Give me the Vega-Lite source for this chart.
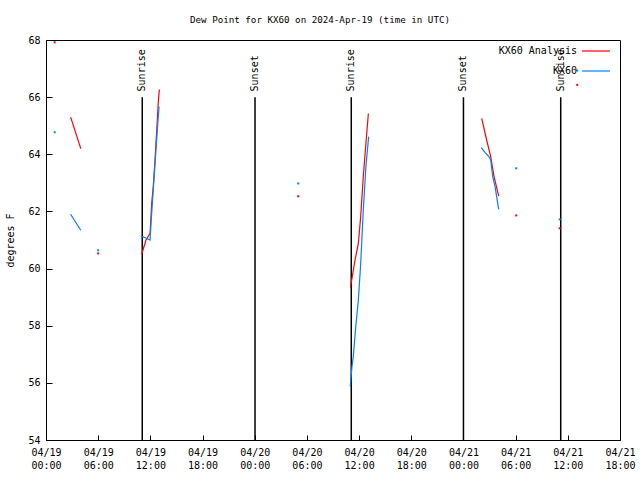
{
  "$schema": "https://vega.github.io/schema/vega-lite/v6.json",
  "autosize": {"type": "none"},
  "width": 574,
  "height": 400,
  "padding": {"left": 46, "top": 40, "right": 20, "bottom": 40},
  "background": "white",
  "config": {
    "font": "DejaVu Sans Mono",
    "view": {"stroke": "black", "strokeWidth": 1},
    "axis": {"labelFont": "DejaVu Sans Mono", "labelFontSize": 10, "labelColor": "black", "titleFont": "DejaVu Sans Mono", "titleFontSize": 10, "titleFontWeight": "normal", "titleColor": "black", "domainColor": "black", "tickColor": "black", "grid": false}
  },
  "title": {"text": "Dew Point for KX60 on 2024-Apr-19 (time in UTC)", "anchor": "middle", "dx": -13, "offset": 10, "fontSize": 9.2, "fontWeight": "normal", "font": "DejaVu Sans Mono", "color": "black"},
  "datasets": {
    "events": [
      {"t": "2024-04-19T11:04:00Z", "label": "Sunrise"},
      {"t": "2024-04-20T00:02:00Z", "label": "Sunset"},
      {"t": "2024-04-20T11:06:00Z", "label": "Sunrise"},
      {"t": "2024-04-21T00:00:00Z", "label": "Sunset"},
      {"t": "2024-04-21T11:11:00Z", "label": "Sunrise"}
    ],
    "lines": [
      {"series": "KX60 Analysis", "seg": "a1", "t": "2024-04-19T02:50:00Z", "v": 65.3},
      {"series": "KX60 Analysis", "seg": "a1", "t": "2024-04-19T04:00:00Z", "v": 64.2},
      {"series": "KX60 Analysis", "seg": "a2", "t": "2024-04-19T11:00:00Z", "v": 60.5},
      {"series": "KX60 Analysis", "seg": "a2", "t": "2024-04-19T11:30:00Z", "v": 61.0},
      {"series": "KX60 Analysis", "seg": "a2", "t": "2024-04-19T11:58:00Z", "v": 61.23},
      {"series": "KX60 Analysis", "seg": "a2", "t": "2024-04-19T12:09:00Z", "v": 62.28},
      {"series": "KX60 Analysis", "seg": "a2", "t": "2024-04-19T12:20:00Z", "v": 62.87},
      {"series": "KX60 Analysis", "seg": "a2", "t": "2024-04-19T12:32:00Z", "v": 63.8},
      {"series": "KX60 Analysis", "seg": "a2", "t": "2024-04-19T12:44:00Z", "v": 64.85},
      {"series": "KX60 Analysis", "seg": "a2", "t": "2024-04-19T12:55:00Z", "v": 65.84},
      {"series": "KX60 Analysis", "seg": "a2", "t": "2024-04-19T13:02:00Z", "v": 66.27},
      {"series": "KX60 Analysis", "seg": "a3", "t": "2024-04-20T11:00:00Z", "v": 59.34},
      {"series": "KX60 Analysis", "seg": "a3", "t": "2024-04-20T11:13:00Z", "v": 59.72},
      {"series": "KX60 Analysis", "seg": "a3", "t": "2024-04-20T11:32:00Z", "v": 60.3},
      {"series": "KX60 Analysis", "seg": "a3", "t": "2024-04-20T11:55:00Z", "v": 60.88},
      {"series": "KX60 Analysis", "seg": "a3", "t": "2024-04-20T12:11:00Z", "v": 61.82},
      {"series": "KX60 Analysis", "seg": "a3", "t": "2024-04-20T12:29:00Z", "v": 63.22},
      {"series": "KX60 Analysis", "seg": "a3", "t": "2024-04-20T12:47:00Z", "v": 64.38},
      {"series": "KX60 Analysis", "seg": "a3", "t": "2024-04-20T13:04:00Z", "v": 65.43},
      {"series": "KX60 Analysis", "seg": "a4", "t": "2024-04-21T02:06:00Z", "v": 65.26},
      {"series": "KX60 Analysis", "seg": "a4", "t": "2024-04-21T02:40:00Z", "v": 64.5},
      {"series": "KX60 Analysis", "seg": "a4", "t": "2024-04-21T03:08:00Z", "v": 63.92},
      {"series": "KX60 Analysis", "seg": "a4", "t": "2024-04-21T03:31:00Z", "v": 63.22},
      {"series": "KX60 Analysis", "seg": "a4", "t": "2024-04-21T04:03:00Z", "v": 62.54},
      {"series": "KX60", "seg": "b1", "t": "2024-04-19T02:50:00Z", "v": 61.9},
      {"series": "KX60", "seg": "b1", "t": "2024-04-19T04:00:00Z", "v": 61.34},
      {"series": "KX60", "seg": "b2", "t": "2024-04-19T10:54:00Z", "v": 61.15},
      {"series": "KX60", "seg": "b2", "t": "2024-04-19T11:58:00Z", "v": 61.0},
      {"series": "KX60", "seg": "b2", "t": "2024-04-19T12:06:00Z", "v": 61.7},
      {"series": "KX60", "seg": "b2", "t": "2024-04-19T12:20:00Z", "v": 62.75},
      {"series": "KX60", "seg": "b2", "t": "2024-04-19T12:37:00Z", "v": 64.03},
      {"series": "KX60", "seg": "b2", "t": "2024-04-19T12:48:00Z", "v": 64.85},
      {"series": "KX60", "seg": "b2", "t": "2024-04-19T13:00:00Z", "v": 65.67},
      {"series": "KX60", "seg": "b3", "t": "2024-04-20T10:59:00Z", "v": 55.87},
      {"series": "KX60", "seg": "b3", "t": "2024-04-20T11:11:00Z", "v": 56.57},
      {"series": "KX60", "seg": "b3", "t": "2024-04-20T11:20:00Z", "v": 56.92},
      {"series": "KX60", "seg": "b3", "t": "2024-04-20T11:37:00Z", "v": 57.97},
      {"series": "KX60", "seg": "b3", "t": "2024-04-20T11:55:00Z", "v": 58.9},
      {"series": "KX60", "seg": "b3", "t": "2024-04-20T12:11:00Z", "v": 60.18},
      {"series": "KX60", "seg": "b3", "t": "2024-04-20T12:29:00Z", "v": 62.05},
      {"series": "KX60", "seg": "b3", "t": "2024-04-20T12:47:00Z", "v": 63.57},
      {"series": "KX60", "seg": "b3", "t": "2024-04-20T13:06:00Z", "v": 64.62},
      {"series": "KX60", "seg": "b4", "t": "2024-04-21T02:03:00Z", "v": 64.23},
      {"series": "KX60", "seg": "b4", "t": "2024-04-21T02:29:00Z", "v": 64.06},
      {"series": "KX60", "seg": "b4", "t": "2024-04-21T02:56:00Z", "v": 63.92},
      {"series": "KX60", "seg": "b4", "t": "2024-04-21T03:08:00Z", "v": 63.8},
      {"series": "KX60", "seg": "b4", "t": "2024-04-21T03:22:00Z", "v": 63.22},
      {"series": "KX60", "seg": "b4", "t": "2024-04-21T03:38:00Z", "v": 62.87},
      {"series": "KX60", "seg": "b4", "t": "2024-04-21T03:49:00Z", "v": 62.52},
      {"series": "KX60", "seg": "b4", "t": "2024-04-21T04:03:00Z", "v": 62.07}
    ],
    "dots": [
      {"series": "KX60 Analysis", "t": "2024-04-19T01:00:00Z", "v": 67.92},
      {"series": "KX60 Analysis", "t": "2024-04-19T06:00:00Z", "v": 60.53},
      {"series": "KX60 Analysis", "t": "2024-04-20T05:00:00Z", "v": 62.53},
      {"series": "KX60 Analysis", "t": "2024-04-21T06:04:00Z", "v": 61.86},
      {"series": "KX60 Analysis", "t": "2024-04-21T11:04:00Z", "v": 61.41},
      {"series": "KX60 Analysis", "t": "2024-04-21T13:05:00Z", "v": 66.43},
      {"series": "KX60", "t": "2024-04-19T01:00:00Z", "v": 64.77},
      {"series": "KX60", "t": "2024-04-19T06:00:00Z", "v": 60.64},
      {"series": "KX60", "t": "2024-04-20T05:00:00Z", "v": 62.98},
      {"series": "KX60", "t": "2024-04-21T06:04:00Z", "v": 63.51},
      {"series": "KX60", "t": "2024-04-21T11:04:00Z", "v": 61.72},
      {"series": "KX60", "t": "2024-04-21T13:05:00Z", "v": 66.93}
    ]
  },
  "layer": [
    {
      "data": {"name": "events"},
      "mark": {"type": "rule", "color": "black", "strokeWidth": 1.5},
      "encoding": {
        "x": {"field": "t", "type": "temporal",
          "scale": {"type": "utc", "domain": [{"year": 2024, "month": 4, "date": 19, "hours": 0, "utc": true}, {"year": 2024, "month": 4, "date": 21, "hours": 18, "utc": true}]},
          "axis": {"orient": "bottom", "title": null, "tickCount": 12, "labelExpr": "[utcFormat(datum.value, '%m/%d'), utcFormat(datum.value, '%H:%M')]", "tickSize": -5, "labelPadding": 12, "labelLineHeight": 13, "labelOverlap": false, "labelFlush": false, "labelBound": false, "labelBaseline": "top"}},
        "y": {"datum": 66, "type": "quantitative",
          "scale": {"domain": [54, 68], "nice": false, "zero": false},
          "axis": {"orient": "left", "title": "degrees F", "values": [54, 56, 58, 60, 62, 64, 66, 68], "tickSize": -6, "labelPadding": 12, "titleX": -36, "titleY": 200, "titleAngle": 270, "titleAlign": "center", "titleBaseline": "middle"}},
        "y2": {"datum": 54}
      }
    },
    {
      "data": {"name": "events"},
      "mark": {"type": "text", "angle": 270, "align": "left", "baseline": "middle", "fontSize": 10, "font": "DejaVu Sans Mono", "color": "black"},
      "encoding": {
        "x": {"field": "t", "type": "temporal"},
        "y": {"datum": 66.2, "type": "quantitative"},
        "text": {"field": "label"}
      }
    },
    {
      "data": {"name": "lines"},
      "mark": {"type": "line", "strokeWidth": 1.2},
      "encoding": {
        "x": {"field": "t", "type": "temporal"},
        "y": {"field": "v", "type": "quantitative"},
        "color": {"field": "series", "type": "nominal",
          "scale": {"domain": ["KX60 Analysis", "KX60"], "range": ["#ff0000", "#0080ff"]},
          "legend": {"title": null, "orient": "none", "legendX": 535, "legendY": -4, "symbolType": "stroke", "symbolSize": 784, "symbolStrokeWidth": 1.2, "labelAlign": "right", "labelOffset": -34, "rowPadding": -14, "labelFont": "DejaVu Sans Mono", "labelFontSize": 10, "labelColor": "black"}},
        "detail": {"field": "seg"}
      }
    },
    {
      "data": {"name": "dots"},
      "mark": {"type": "square", "size": 4, "opacity": 1},
      "encoding": {
        "x": {"field": "t", "type": "temporal"},
        "y": {"field": "v", "type": "quantitative"},
        "color": {"field": "series", "type": "nominal"}
      }
    }
  ]
}
